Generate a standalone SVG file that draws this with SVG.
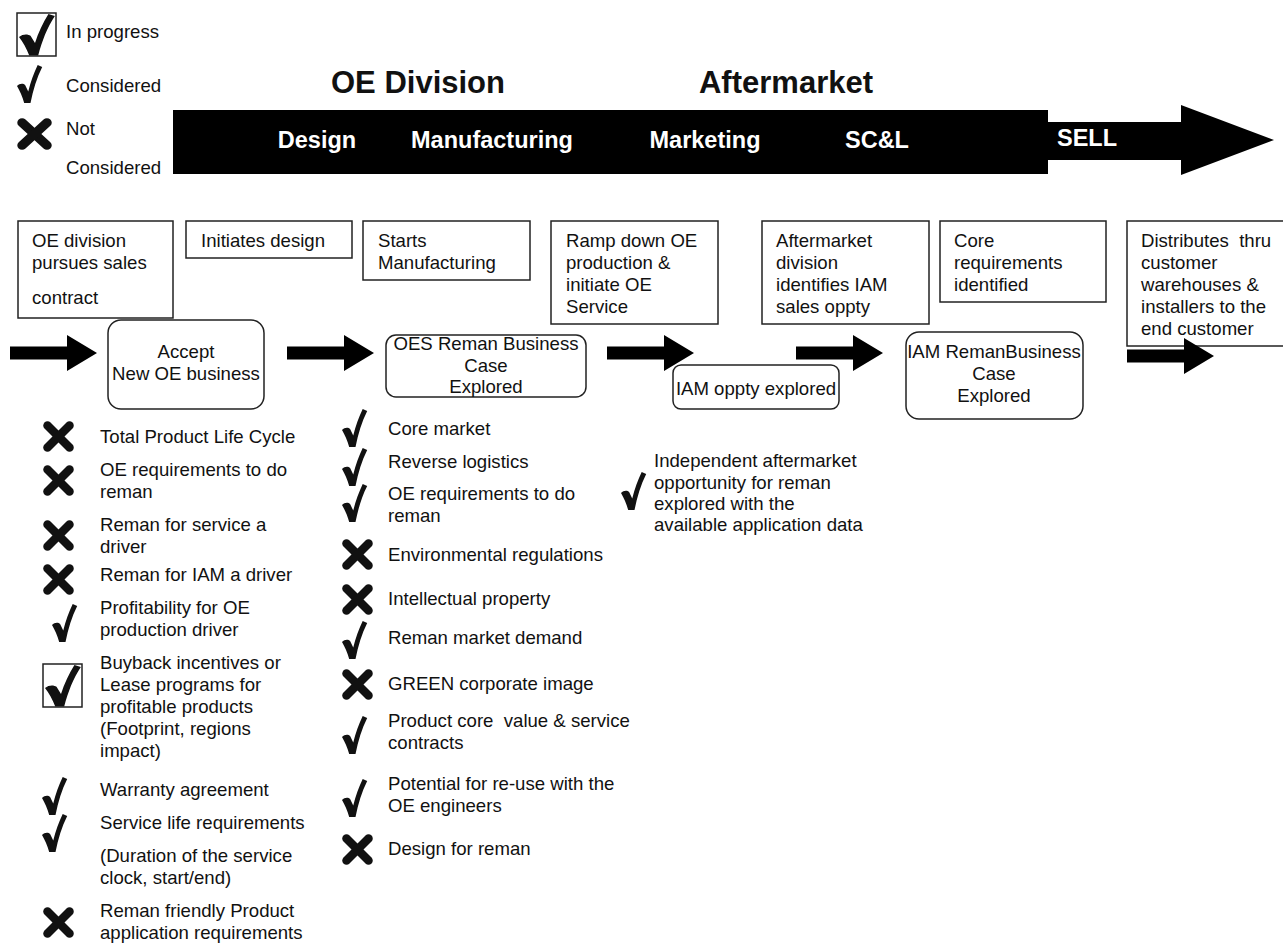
<svg xmlns="http://www.w3.org/2000/svg" xmlns:xlink="http://www.w3.org/1999/xlink" width="1283" height="943" viewBox="0 0 1283 943">
  <style>
    text { font-family: "Liberation Sans", Arial, sans-serif; fill: #111; }
    .t { font-size: 18.6px; }
    .c { font-size: 18.6px; text-anchor: middle; }
    .title { font-size: 31px; font-weight: bold; text-anchor: middle; }
    .phase { font-size: 23.5px; font-weight: bold; fill: #fff; text-anchor: middle; }
    .box { fill: #fff; stroke: #222; stroke-width: 1.5; }
    .pre { white-space: pre; }
  </style>
  <defs>
    <!-- check mark glyph, 28 x 40 -->
    <path id="chk" d="M0,22 C3,19 7,19 9,21 L12.5,28 C15,18 19,8 23,0 L28,2 C22,13 18,26 15,40 L8,40 C6,33 3,27 0,22 Z" fill="#111"/>
    <!-- heavy cross, about 31 x 31 -->
    <g id="xmk" stroke="#111" stroke-width="8.5" stroke-linecap="round">
      <line x1="4.5" y1="4.5" x2="26.5" y2="26.5"/>
      <line x1="26.5" y1="4.5" x2="4.5" y2="26.5"/>
    </g>
    <!-- check inside a square frame -->
    <g id="bchk">
      <rect x="0" y="0" width="39" height="43" fill="#fff" stroke="#222" stroke-width="1.5"/>
      <use xlink:href="#chk" transform="translate(2,1) scale(1.28,1.04)"/>
    </g>
    <!-- block arrow, 87 long -->
    <path id="barrow" d="M0,-6.5 H57 V-18 L87,0 L57,18 V6.5 H0 Z" fill="#000"/>
  </defs>

  <!-- legend -->
  <g id="legend">
    <use xlink:href="#bchk" x="17" y="13"/>
    <text class="t" x="66" y="38">In progress</text>
    <use xlink:href="#chk" transform="translate(17,65) scale(0.9,0.95)"/>
    <text class="t" x="66" y="92">Considered</text>
    <use xlink:href="#xmk" transform="translate(17,118) scale(1.13,1.03)"/>
    <text class="t" x="66" y="135">Not</text>
    <text class="t" x="66" y="174">Considered</text>
  </g>

  <!-- value chain arrow -->
  <g id="timeline">
    <text class="title" x="418" y="93">OE Division</text>
    <text class="title" x="786" y="93">Aftermarket</text>
    <path d="M173,110 H1048 V122 H1181 V105 L1274,140 L1181,175 V160 H1048 V174 H173 Z" fill="#000"/>
    <text class="phase" x="317" y="148">Design</text>
    <text class="phase" x="492" y="148">Manufacturing</text>
    <text class="phase" x="705" y="148">Marketing</text>
    <text class="phase" x="877" y="148">SC&amp;L</text>
    <text class="phase" x="1087" y="146">SELL</text>
  </g>

  <!-- activity boxes -->
  <g id="act-sales">
    <rect class="box" x="18" y="221" width="155" height="97"/>
    <text class="t" x="32" y="247">OE division</text>
    <text class="t" x="32" y="269">pursues sales</text>
    <text class="t" x="32" y="304">contract</text>
  </g>
  <g id="act-design">
    <rect class="box" x="186" y="221" width="166" height="37"/>
    <text class="t" x="201" y="247">Initiates design</text>
  </g>
  <g id="act-manufacturing">
    <rect class="box" x="363" y="221" width="167" height="59"/>
    <text class="t" x="378" y="247">Starts</text>
    <text class="t" x="378" y="269">Manufacturing</text>
  </g>
  <g id="act-rampdown">
    <rect class="box" x="551" y="221" width="167" height="103"/>
    <text class="t" x="566" y="247">Ramp down OE</text>
    <text class="t" x="566" y="269">production &amp;</text>
    <text class="t" x="566" y="291">initiate OE</text>
    <text class="t" x="566" y="313">Service</text>
  </g>
  <g id="act-aftermarket">
    <rect class="box" x="762" y="221" width="167" height="103"/>
    <text class="t" x="776" y="247">Aftermarket</text>
    <text class="t" x="776" y="269">division</text>
    <text class="t" x="776" y="291">identifies IAM</text>
    <text class="t" x="776" y="313">sales oppty</text>
  </g>
  <g id="act-core">
    <rect class="box" x="940" y="221" width="166" height="81"/>
    <text class="t" x="954" y="247">Core</text>
    <text class="t" x="954" y="269">requirements</text>
    <text class="t" x="954" y="291">identified</text>
  </g>
  <g id="act-distribute">
    <rect class="box" x="1127" y="221" width="170" height="125"/>
    <text class="t pre" x="1141" y="247">Distributes  thru</text>
    <text class="t" x="1141" y="269">customer</text>
    <text class="t" x="1141" y="291">warehouses &amp;</text>
    <text class="t" x="1141" y="313">installers to the</text>
    <text class="t" x="1141" y="335">end customer</text>
  </g>

  <!-- decision steps -->
  <g id="step-accept">
    <rect class="box" x="108" y="320" width="156" height="89" rx="13"/>
    <text class="c" x="186" y="358">Accept</text>
    <text class="c" x="186" y="380">New OE business</text>
  </g>
  <g id="step-oes">
    <rect class="box" x="386" y="335" width="200" height="62" rx="10"/>
    <text class="c" x="486" y="350">OES Reman Business</text>
    <text class="c" x="486" y="372">Case</text>
    <text class="c" x="486" y="393">Explored</text>
  </g>
  <g id="step-iam-oppty">
    <rect class="box" x="673" y="365" width="166" height="44" rx="8"/>
    <text class="c" x="756" y="395">IAM oppty explored</text>
  </g>
  <g id="step-iam-case">
    <rect class="box" x="906" y="332" width="177" height="87" rx="13"/>
    <text class="c" x="994" y="358">IAM RemanBusiness</text>
    <text class="c" x="994" y="380">Case</text>
    <text class="c" x="994" y="402">Explored</text>
  </g>

  <!-- flow arrows -->
  <g id="connectors">
    <use xlink:href="#barrow" transform="translate(10,353)"/>
    <use xlink:href="#barrow" transform="translate(287,353)"/>
    <use xlink:href="#barrow" transform="translate(607,353)"/>
    <use xlink:href="#barrow" transform="translate(796,353)"/>
    <use xlink:href="#barrow" transform="translate(1127,356)"/>
  </g>

  <!-- criteria at OE business acceptance -->
  <g id="criteria-accept">
    <use xlink:href="#xmk" x="43" y="421"/>
    <text class="t" x="100" y="443">Total Product Life Cycle</text>
    <use xlink:href="#xmk" x="43" y="465"/>
    <text class="t" x="100" y="476">OE requirements to do</text>
    <text class="t" x="100" y="498">reman</text>
    <use xlink:href="#xmk" x="43" y="520"/>
    <text class="t" x="100" y="531">Reman for service a</text>
    <text class="t" x="100" y="553">driver</text>
    <use xlink:href="#xmk" x="43" y="564"/>
    <text class="t" x="100" y="581">Reman for IAM a driver</text>
    <use xlink:href="#chk" transform="translate(52,604) scale(0.9,0.95)"/>
    <text class="t" x="100" y="614">Profitability for OE</text>
    <text class="t" x="100" y="636">production driver</text>
    <use xlink:href="#bchk" x="43" y="664"/>
    <text class="t" x="100" y="669">Buyback incentives or</text>
    <text class="t" x="100" y="691">Lease programs for</text>
    <text class="t" x="100" y="713">profitable products</text>
    <text class="t" x="100" y="735">(Footprint, regions</text>
    <text class="t" x="100" y="757">impact)</text>
    <use xlink:href="#chk" transform="translate(42,777) scale(0.9,0.95)"/>
    <text class="t" x="100" y="796">Warranty agreement</text>
    <use xlink:href="#chk" transform="translate(42,814) scale(0.9,0.95)"/>
    <text class="t" x="100" y="829">Service life requirements</text>
    <text class="t" x="100" y="862">(Duration of the service</text>
    <text class="t" x="100" y="884">clock, start/end)</text>
    <use xlink:href="#xmk" x="43" y="907"/>
    <text class="t" x="100" y="917">Reman friendly Product</text>
    <text class="t" x="100" y="939">application requirements</text>
  </g>

  <!-- criteria for the OES reman business case -->
  <g id="criteria-oes">
    <use xlink:href="#chk" transform="translate(342,409) scale(0.9,0.95)"/>
    <text class="t" x="388" y="435">Core market</text>
    <use xlink:href="#chk" transform="translate(342,448) scale(0.9,0.95)"/>
    <text class="t" x="388" y="468">Reverse logistics</text>
    <use xlink:href="#chk" transform="translate(342,484) scale(0.9,0.95)"/>
    <text class="t" x="388" y="500">OE requirements to do</text>
    <text class="t" x="388" y="522">reman</text>
    <use xlink:href="#xmk" x="342" y="539"/>
    <text class="t" x="388" y="561">Environmental regulations</text>
    <use xlink:href="#xmk" x="342" y="584"/>
    <text class="t" x="388" y="605">Intellectual property</text>
    <use xlink:href="#chk" transform="translate(342,621) scale(0.9,0.95)"/>
    <text class="t" x="388" y="644">Reman market demand</text>
    <use xlink:href="#xmk" x="342" y="669"/>
    <text class="t" x="388" y="690">GREEN corporate image</text>
    <use xlink:href="#chk" transform="translate(342,716) scale(0.9,0.95)"/>
    <text class="t pre" x="388" y="727">Product core  value &amp; service</text>
    <text class="t" x="388" y="749">contracts</text>
    <use xlink:href="#chk" transform="translate(342,779) scale(0.9,0.95)"/>
    <text class="t" x="388" y="790">Potential for re-use with the</text>
    <text class="t" x="388" y="812">OE engineers</text>
    <use xlink:href="#xmk" x="342" y="834"/>
    <text class="t" x="388" y="855">Design for reman</text>
  </g>

  <!-- IAM opportunity note -->
  <g id="criteria-iam">
    <use xlink:href="#chk" transform="translate(621,472) scale(0.9,0.95)"/>
    <text class="t" x="654" y="467">Independent aftermarket</text>
    <text class="t" x="654" y="489">opportunity for reman</text>
    <text class="t" x="654" y="510">explored with the</text>
    <text class="t" x="654" y="531">available application data</text>
  </g>
</svg>
